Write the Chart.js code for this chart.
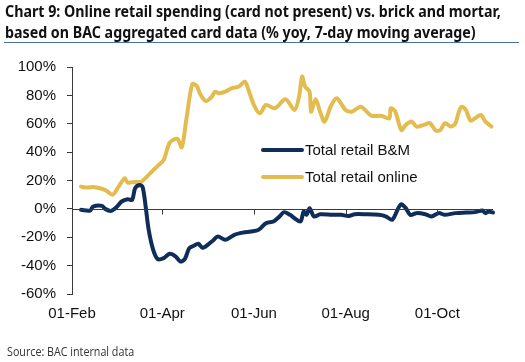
<!DOCTYPE html>
<html>
<head>
<meta charset="utf-8">
<script src="https://cdn.jsdelivr.net/npm/chart.js@4.4.0/dist/chart.umd.min.js"></script>
<style>
  html, body { margin: 0; padding: 0; background: #fff; }
  #wrap { position: relative; width: 525px; height: 362px; overflow: hidden; }
  #c { position: absolute; left: 0; top: 0; }
  #title { position: absolute; left: 5px; top: 1px; font: bold 15.5px "Noto Sans", sans-serif; line-height: 21px; color: #111; white-space: nowrap; transform-origin: 0 0; }
  #rule { position: absolute; left: 4px; top: 42px; width: 515px; height: 1px; background: #4d72a8; }
  #source { position: absolute; left: 7px; top: 343px; font: 12.5px "Open Sans", sans-serif; color: #333; white-space: nowrap; transform-origin: 0 0; }
</style>
</head>
<body>
<div id="wrap">
  <canvas id="c" width="525" height="362"></canvas>
  <div id="title"><span id="t1">Chart 9: Online retail spending (card not present) vs. brick and mortar,</span><br><span>based on BAC aggregated card data (% yoy, 7-day moving average)</span></div>
  <div id="rule"></div>
  <div id="source">Source: BAC internal data</div>
</div>
<script>
// days counted from 01-Feb
const tickDays = [0, 60, 121, 182, 243];
const tickLabels = ['01-Feb', '01-Apr', '01-Jun', '01-Aug', '01-Oct'];
const yTicks = [-60, -40, -20, 0, 20, 40, 60, 80, 100];

const bmDays = [6, 12, 14, 20, 22, 26, 30, 33, 37, 40, 42, 45, 47, 49, 51, 54, 57, 61, 65, 69, 72, 75, 78, 81, 84, 87, 93, 97, 102, 108, 114, 119, 124, 129, 134, 138, 141, 145, 148, 152, 154, 156, 158, 161, 165, 173, 179, 184, 188, 195, 204, 209, 213, 217, 219, 222, 225, 229, 235, 239, 244, 248, 255, 262, 268, 273, 275, 277, 280];
const bmVals = [-0.7, -1.2, 1.6, 2.1, 0, -1.4, 1.6, 5.2, 6.8, 6.3, 14.6, 16.9, 15.3, 1.6, -14.8, -28.9, -35.4, -34.7, -31.7, -33.6, -37.1, -35.4, -27.7, -26, -24.6, -27.5, -23, -19.5, -21.8, -18.3, -16.7, -16, -14.8, -10.1, -8.9, -5.4, -2.3, -4.2, -6.6, -8.9, -1.9, -4.2, 0.5, -5.4, -3.8, -4.2, -4.2, -5, -3.8, -3.8, -4.2, -5.4, -7.7, 0.5, 3.3, 0.5, -4.2, -3, -3.8, -5.4, -3, -4.2, -3, -2.6, -2.3, -1.2, -3, -1.9, -2.6];

const onDays = [6, 10, 15, 22, 27, 31, 35, 37, 42, 46, 51, 57, 61, 65, 70, 73, 76, 80, 83, 85, 89, 93, 95, 98, 102, 106, 111, 115, 117, 121, 125, 129, 135, 142, 148, 151, 153, 155, 158, 159, 162, 165, 168, 172, 176, 182, 186, 192, 195, 199, 206, 211, 212, 215, 219, 222, 226, 229, 234, 238, 242, 245, 248, 252, 255, 257, 259, 262, 265, 268, 272, 275, 279];
const onVals = [15.7, 15, 15.3, 13.4, 10, 15.7, 21.6, 18.5, 19, 19.2, 24, 30.3, 34.5, 46.7, 49.3, 43.4, 62.7, 88, 86.6, 81.5, 76, 79, 82.6, 81.5, 82.6, 85, 86.2, 89.7, 85, 73.2, 67.4, 73.2, 70.9, 77.3, 69.7, 79, 93.2, 86.2, 82.6, 68.5, 77.3, 68.5, 61.5, 72, 78, 69.7, 68.5, 72, 69.7, 65.7, 65.5, 63.8, 70.9, 68.5, 55.6, 59.2, 61.5, 58, 59.2, 60.4, 55.2, 55.6, 60.4, 58, 60.4, 67.4, 72, 69.7, 62.2, 63.8, 66.2, 61.5, 58];

const NAVY = '#0f2d59';
const GOLD = '#e4bb4f';
const AXIS = '#3a3a3a';
const FONT = '"Liberation Sans", Arial, sans-serif';

const pts = (xs, ys) => xs.map((d, i) => ({ x: d, y: ys[i] }));

// zero line with downward ticks, drawn through the scales
const zeroAxis = {
  id: 'zeroAxis',
  afterDatasetsDraw(chart) {
    const { ctx, chartArea, scales: { x, y } } = chart;
    const y0 = Math.round(y.getPixelForValue(0)) + 0.5;
    ctx.save();
    ctx.strokeStyle = AXIS;
    ctx.lineWidth = 1;
    ctx.beginPath();
    ctx.moveTo(chartArea.left, y0);
    ctx.lineTo(chartArea.right, y0);
    tickDays.forEach(d => {
      const px = Math.round(x.getPixelForValue(d)) + 0.5;
      ctx.moveTo(px, y0);
      ctx.lineTo(px, y0 + 5);
    });
    ctx.stroke();
    ctx.restore();
  }
};

// legend inside the plot
const innerLegend = {
  id: 'innerLegend',
  afterDraw(chart) {
    const { ctx } = chart;
    ctx.save();
    ctx.font = '15px ' + FONT;
    ctx.textBaseline = 'middle';
    chart.data.datasets.forEach((ds, i) => {
      const ly = 150 + i * 27;
      ctx.strokeStyle = ds.borderColor;
      ctx.lineWidth = 4;
      ctx.lineCap = 'round';
      ctx.beginPath();
      ctx.moveTo(263, ly);
      ctx.lineTo(302, ly);
      ctx.stroke();
      ctx.fillStyle = '#111';
      ctx.fillText(ds.label, 305, ly + 1);
    });
    ctx.restore();
  }
};

new Chart(document.getElementById('c'), {
  type: 'line',
  data: {
    datasets: [
      { label: 'Total retail B&M', data: pts(bmDays, bmVals), borderColor: NAVY, borderWidth: 4, pointRadius: 0, tension: 0.3, borderCapStyle: 'round', borderJoinStyle: 'round' },
      { label: 'Total retail online', data: pts(onDays, onVals), borderColor: GOLD, borderWidth: 4, pointRadius: 0, tension: 0.3, borderCapStyle: 'round', borderJoinStyle: 'round' }
    ]
  },
  options: {
    responsive: false,
    animation: false,
    clip: false,
    layout: { padding: { left: 0, right: 32, top: 67, bottom: 38 } },
    plugins: { legend: { display: false }, tooltip: { enabled: false } },
    scales: {
      x: {
        type: 'linear', min: 0, max: 280,
        afterBuildTicks: s => { s.ticks = tickDays.map(v => ({ value: v })); },
        afterFit: s => { s.height = 30; },
        grid: { display: false, drawTicks: false },
        border: { display: false },
        ticks: {
          padding: 11, maxRotation: 0, autoSkip: false, color: '#111',
          font: { family: FONT, size: 15 },
          callback: v => tickLabels[tickDays.indexOf(v)]
        }
      },
      y: {
        min: -60, max: 100,
        afterBuildTicks: s => { s.ticks = yTicks.map(v => ({ value: v })); },
        afterFit: s => { s.width = 72; },
        grid: { drawOnChartArea: false, drawTicks: true, tickLength: 5, color: AXIS },
        border: { display: true, color: AXIS, width: 1 },
        ticks: {
          padding: 11, color: '#111',
          font: { family: FONT, size: 15 },
          callback: v => v + '%'
        }
      }
    }
  },
  plugins: [zeroAxis, innerLegend]
});

// fit the title and source widths to the reference
const t1 = document.getElementById('t1');
document.getElementById('title').style.transform = 'scaleX(' + (496 / t1.offsetWidth) + ')';
const src = document.getElementById('source');
src.style.transform = 'scaleX(' + (127 / src.offsetWidth) + ')';
</script>
</body>
</html>
